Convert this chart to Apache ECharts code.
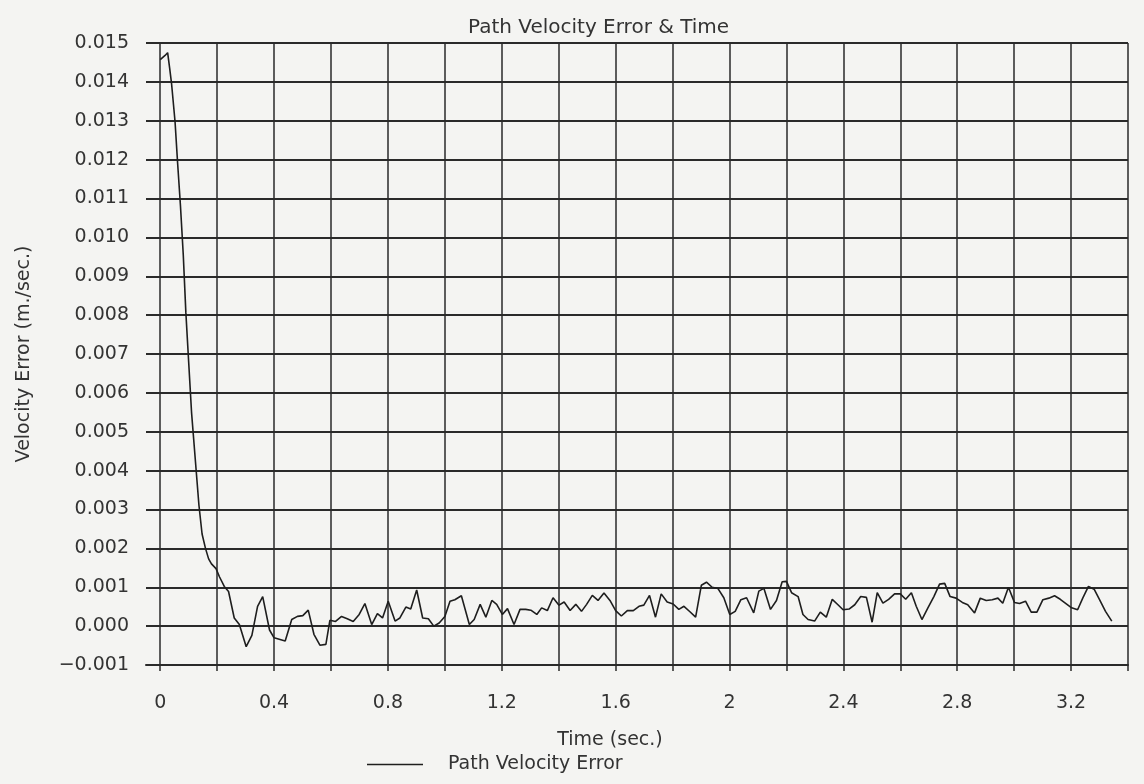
<!DOCTYPE html>
<html><head><meta charset="utf-8">
<script src="https://cdn.jsdelivr.net/npm/echarts@6/dist/echarts.min.js"></script>
<style>html,body{margin:0;padding:0;background:#f4f4f2}#c{width:1144px;height:784px}</style>
</head><body><div id="c"></div>
<script>
const titleText = 'Path Velocity Error & Time';
const seriesName = 'Path Velocity Error';
const xName = 'Time (sec.)';
const yName = 'Velocity Error (m./sec.)';

const timeSec = [
  0.000,0.017,0.026,0.033,0.040,0.052,0.061,0.071,0.081,0.090,0.100,0.110,0.124,0.136,0.147,0.159,0.170,0.180,0.196,0.208,
  0.225,0.240,0.260,0.278,0.302,0.322,0.342,0.360,0.384,0.400,0.439,0.462,0.482,0.501,0.520,0.540,0.561,0.582,0.596,0.616,
  0.637,0.657,0.678,0.699,0.719,0.743,0.763,0.781,0.801,0.825,0.842,0.863,0.880,0.901,0.922,0.942,0.961,0.980,1.000,1.018,
  1.035,1.058,1.086,1.103,1.124,1.144,1.165,1.182,1.202,1.220,1.243,1.264,1.284,1.302,1.323,1.340,1.360,1.380,1.401,1.419,
  1.440,1.460,1.480,1.498,1.518,1.538,1.559,1.580,1.600,1.620,1.641,1.662,1.682,1.699,1.719,1.740,1.760,1.781,1.802,1.822,
  1.840,1.861,1.881,1.901,1.919,1.939,1.959,1.980,2.001,2.020,2.040,2.060,2.085,2.103,2.121,2.144,2.165,2.185,2.200,2.218,
  2.241,2.258,2.276,2.299,2.319,2.340,2.361,2.381,2.399,2.420,2.440,2.461,2.481,2.501,2.519,2.539,2.559,2.580,2.600,2.619,
  2.639,2.656,2.676,2.697,2.718,2.738,2.756,2.775,2.796,2.818,2.837,2.861,2.881,2.902,2.923,2.943,2.960,2.980,3.001,3.019,
  3.040,3.060,3.080,3.101,3.122,3.142,3.162,3.182,3.202,3.223,3.241,3.261,3.281,3.300,3.321,3.343
];
const velErr = [
  0.01457,0.01468,0.01475,0.01436,0.01394,0.01298,0.01192,0.01082,0.00954,0.00807,0.00678,0.00550,0.00421,0.00311,0.00237,0.00200,0.00173,0.00160,0.00148,0.00127,
  0.00102,0.00089,0.00021,0.00004,-0.00053,-0.00024,0.00051,0.00076,-0.00010,-0.00030,-0.00038,0.00017,0.00025,0.00027,0.00041,-0.00021,-0.00049,-0.00047,0.00015,0.00012,
  0.00025,0.00019,0.00012,0.00030,0.00058,0.00004,0.00032,0.00021,0.00064,0.00013,0.00021,0.00049,0.00044,0.00093,0.00021,0.00019,0.00000,0.00008,0.00025,0.00064,
  0.00068,0.00078,0.00004,0.00017,0.00056,0.00023,0.00066,0.00056,0.00030,0.00045,0.00004,0.00043,0.00043,0.00041,0.00030,0.00047,0.00040,0.00073,0.00054,0.00062,
  0.00040,0.00056,0.00038,0.00056,0.00079,0.00066,0.00085,0.00066,0.00040,0.00026,0.00040,0.00040,0.00051,0.00054,0.00079,0.00023,0.00083,0.00062,0.00057,0.00043,
  0.00051,0.00037,0.00023,0.00105,0.00113,0.00100,0.00097,0.00073,0.00030,0.00038,0.00068,0.00073,0.00034,0.00090,0.00097,0.00043,0.00066,0.00114,0.00115,0.00086,
  0.00076,0.00030,0.00017,0.00013,0.00036,0.00023,0.00069,0.00055,0.00042,0.00044,0.00055,0.00076,0.00074,0.00010,0.00086,0.00059,0.00069,0.00083,0.00083,0.00069,
  0.00086,0.00051,0.00017,0.00047,0.00076,0.00108,0.00110,0.00076,0.00072,0.00061,0.00055,0.00034,0.00072,0.00066,0.00068,0.00072,0.00059,0.00100,0.00061,0.00058,
  0.00064,0.00036,0.00036,0.00068,0.00072,0.00078,0.00069,0.00058,0.00047,0.00042,0.00072,0.00102,0.00095,0.00068,0.00038,0.00013
];

const xGridTicks = [0,0.2,0.4,0.6,0.8,1.0,1.2,1.4,1.6,1.8,2.0,2.2,2.4,2.6,2.8,3.0,3.2,3.4];
const xLabelTicks = [0,0.4,0.8,1.2,1.6,2.0,2.4,2.8,3.2];
const xMin = -0.05, xMax = 3.4;
const yMin = -0.001, yMax = 0.015, yStep = 0.001;

const font = 'DejaVu Sans';
const ink = '#2a2a2a';

const chart = echarts.init(document.getElementById('c'), null, {renderer: 'canvas'});
chart.setOption({
  backgroundColor: '#f4f4f2',
  animation: false,
  title: {
    text: titleText, left: 463, top: 13,
    textStyle: {fontFamily: font, fontSize: 20, fontWeight: 'normal', color: '#333'}
  },
  legend: {
    data: [seriesName], left: 362, top: 750,
    icon: 'rect', itemWidth: 56, itemHeight: 1.6,
    textStyle: {fontFamily: font, fontSize: 19, color: '#333', padding: [0, 0, 0, 20]}
  },
  grid: {left: 146, right: 16, top: 43, bottom: 119, containLabel: false},
  xAxis: {
    type: 'value', min: xMin, max: xMax,
    name: xName, nameLocation: 'middle', nameGap: 66,
    nameTextStyle: {fontFamily: font, fontSize: 19, color: '#333', padding: [0, 54, 0, 0]},
    axisLine: {show: true, onZero: false, lineStyle: {color: ink, width: 2}},
    axisTick: {show: true, customValues: xGridTicks, length: 6, lineStyle: {color: ink, width: 1.5}},
    axisLabel: {customValues: xLabelTicks, margin: 29, fontFamily: font, fontSize: 19, color: '#333',
      formatter: v => String(+(+v).toFixed(1))},
    splitLine: {show: true, lineStyle: {color: ink, width: 1.5}}
  },
  yAxis: {
    type: 'value', min: yMin, max: yMax, interval: yStep,
    name: yName, nameLocation: 'middle', nameGap: 112,
    nameTextStyle: {fontFamily: font, fontSize: 19, color: '#333'},
    axisLine: {show: false}, axisTick: {show: false},
    axisLabel: {margin: 17, fontFamily: font, fontSize: 19, color: '#333',
      formatter: v => (v < 0 ? '\u2212' : '') + Math.abs(v).toFixed(3)},
    splitLine: {show: true, lineStyle: {color: ink, width: 2}}
  },
  series: [{
    name: seriesName, type: 'line', symbol: 'none',
    lineStyle: {color: '#1e1e1e', width: 1.6}, itemStyle: {color: '#1e1e1e'},
    data: timeSec.map((t, i) => [t, velErr[i]])
  }]
});
</script></body></html>
